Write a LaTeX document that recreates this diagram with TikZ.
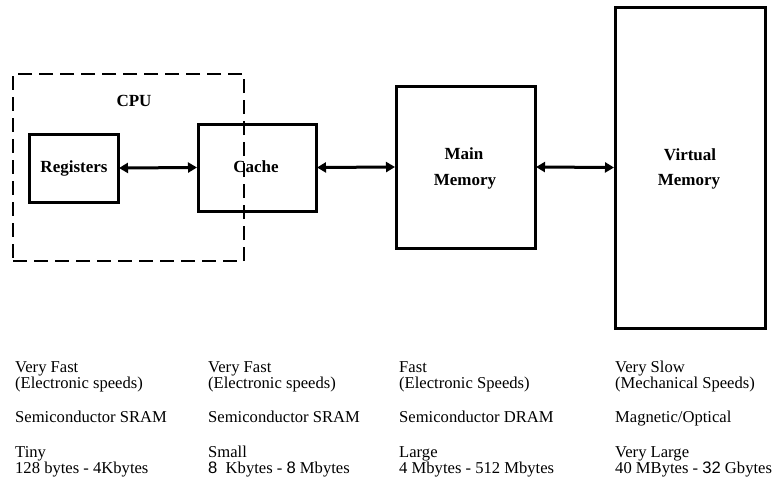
\documentclass[tikz,border=0pt]{standalone}
\usepackage{fontspec}
\setmainfont{Liberation Serif}
\newfontfamily\arialf{Liberation Sans}
\usetikzlibrary{arrows.meta}
\begin{document}
\begin{tikzpicture}[x=1pt,y=-1pt,
  blk/.style={draw,line width=3pt,rectangle,inner sep=0pt},
  lbl/.style={anchor=base,font=\fontsize{17}{17}\selectfont\bfseries,inner sep=0pt},
  txt/.style={anchor=base west,font=\fontsize{16.6}{16.6}\selectfont,inner sep=0pt},
  arr/.style={line width=3pt,{Triangle[length=9pt,width=10pt]}-{Triangle[length=9pt,width=10pt]},shorten <=-0.5pt,shorten >=-0.5pt}]
\useasboundingbox (0,0) rectangle (775,479);
% boxes
\node[blk,minimum width=89pt,minimum height=68pt] (reg) at (73.5,168) {};
\node[blk,minimum width=118pt,minimum height=87pt] (cache) at (257,167.5) {};
\node[blk,minimum width=139pt,minimum height=162pt] (main) at (465.5,167) {};
\node[blk,minimum width=150pt,minimum height=321pt] (virt) at (690,167.5) {};
\node[draw,line width=2.6pt,dash pattern=on 14pt off 7pt,rectangle,inner sep=0pt,minimum width=231pt,minimum height=187pt] (cpu) at (128.5,167.5) {};
% labels
\node[lbl] (cpulbl) at (134,106) {CPU};
\node[lbl] (reglbl) at (74,172.5) {Registers};
\node[lbl] (cachelbl) at (256,172) {Cache};
\node[lbl] (mainlbl1) at (464,159) {Main};
\node[lbl] (mainlbl2) at (465,185) {Memory};
\node[lbl] (virtlbl1) at (690,160) {Virtual};
\node[lbl] (virtlbl2) at (689,185) {Memory};
% arrows
\draw[arr] (reg.east) -- (cache.west);
\draw[arr] (cache.east) -- (main.west);
\draw[arr] (main.east) -- (virt.west);
% column 1
\node[txt] (a1) at (15,372.5) {Very Fast};
\node[txt] (a2) at (15,388) {(Electronic speeds)};
\node[txt] (a3) at (15,422.5) {Semiconductor SRAM};
\node[txt] (a4) at (15,457) {Tiny};
\node[txt] (a5) at (15,473) {128 bytes - 4Kbytes};
% column 2
\node[txt] (b1) at (208,372.5) {Very Fast};
\node[txt] (b2) at (208,388) {(Electronic speeds)};
\node[txt] (b3) at (208,422.5) {Semiconductor SRAM};
\node[txt] (b4) at (208,457) {Small};
\node[txt] (b5) at (208,473) {{\arialf 8}\ \ Kbytes - {\arialf 8} Mbytes};
% column 3
\node[txt] (c1) at (399,372.5) {Fast};
\node[txt] (c2) at (399,388) {(Electronic Speeds)};
\node[txt] (c3) at (399,422.5) {Semiconductor DRAM};
\node[txt] (c4) at (399,457) {Large};
\node[txt] (c5) at (399,473) {4 Mbytes - 512 Mbytes};
% column 4
\node[txt] (d1) at (615,372.5) {Very Slow};
\node[txt] (d2) at (615,388) {(Mechanical Speeds)};
\node[txt] (d3) at (615,422.5) {Magnetic/Optical};
\node[txt] (d4) at (615,457) {Very Large};
\node[txt] (d5) at (615,473) {40 MBytes - {\arialf 32} Gbytes};
\end{tikzpicture}
\end{document}
